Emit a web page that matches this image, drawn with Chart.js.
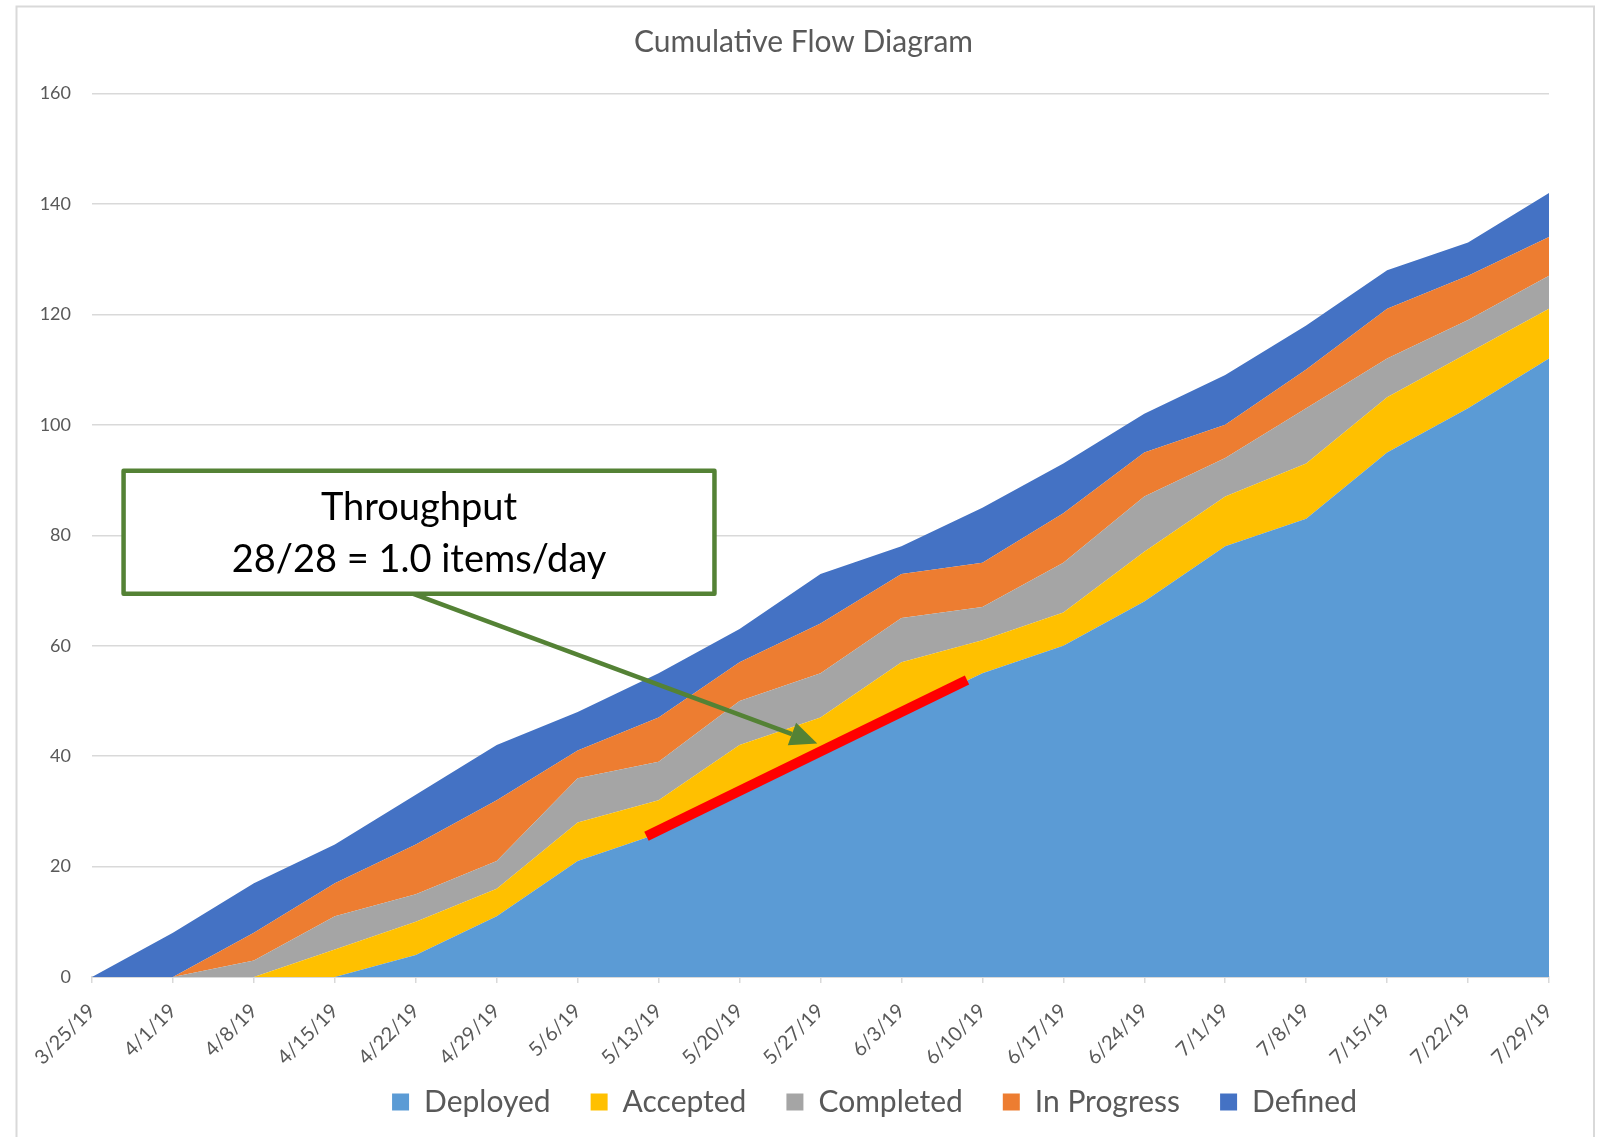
<!DOCTYPE html>
<html>
<head>
<meta charset="utf-8">
<title>Cumulative Flow Diagram</title>
<script src="https://cdn.jsdelivr.net/npm/chart.js@4.4.1/dist/chart.umd.min.js"></script>
<style>
  html, body { margin: 0; padding: 0; background: #ffffff; }
  #cfdChart { display: block; }
</style>
</head>
<body>
<canvas id="cfdChart" width="1601" height="1137"></canvas>
<script>
// Week labels (x axis)
const weeks = ['3/25/19', '4/1/19', '4/8/19', '4/15/19', '4/22/19', '4/29/19', '5/6/19',
  '5/13/19', '5/20/19', '5/27/19', '6/3/19', '6/10/19', '6/17/19', '6/24/19', '7/1/19',
  '7/8/19', '7/15/19', '7/22/19', '7/29/19'];

// Cumulative item counts, top edge of each band
const deployed   = [0, 0, 0, 0, 4, 11, 21, 26, 33, 40, 48, 55, 60, 68, 78, 83, 95, 103, 112];
const accepted   = [0, 0, 0, 5, 10, 16, 28, 32, 42, 47, 57, 61, 66, 77, 87, 93, 105, 113, 121];
const completed  = [0, 0, 3, 11, 15, 21, 36, 39, 50, 55, 65, 67, 75, 87, 94, 103, 112, 119, 127];
const inProgress = [0, 0, 8, 17, 24, 32, 41, 47, 57, 64, 73, 75, 84, 95, 100, 110, 121, 127, 134];
const defined    = [0, 8, 17, 24, 33, 42, 48, 55, 63, 73, 78, 85, 93, 102, 109, 118, 128, 133, 142];

const yTicks = [0, 20, 40, 60, 80, 100, 120, 140, 160];

const FONT = 'Lato, "Open Sans", sans-serif';
const TEXT_GREY = '#595959';
const LINE_GREY = '#d9d9d9';

/**
 * White background + thin grey frame round the chart (Excel chart border)
 */
const framePlugin = {
  id: 'frame',
  beforeDraw: (chart) => {
    const { ctx, width, height } = chart;
    ctx.save();
    ctx.fillStyle = '#ffffff';
    ctx.fillRect(0, 0, width, height);
    ctx.strokeStyle = LINE_GREY;
    ctx.lineWidth = 2;
    ctx.beginPath();
    ctx.moveTo(16.5, height + 5);
    ctx.lineTo(16.5, 6.5);
    ctx.lineTo(1594, 6.5);
    ctx.lineTo(1594, height + 5);
    ctx.stroke();
    ctx.restore();
  }
};

/**
 * Excel centres title and legend on its own frame, not on the plot;
 * nudge the two boxes after layout.
 */
const nudgePlugin = {
  id: 'nudge',
  afterLayout: (chart, args, opts) => {
    const move = (box, dx, dy) => {
      if (!box) return;
      box.left += dx; box.right += dx;
      box.top += dy; box.bottom += dy;
    };
    move(chart.titleBlock, opts.title[0], opts.title[1]);
    move(chart.legend, opts.legend[0], opts.legend[1]);
  }
};

/**
 * Throughput call-out: red trend segment, green arrow and text box,
 * placed in data space (x = week index, y = items)
 */
const throughputPlugin = {
  id: 'throughput',
  afterDatasetsDraw: (chart, args, opts) => {
    const { ctx, scales: { x, y } } = chart;
    const px = (p) => [x.getPixelForValue(p[0]), y.getPixelForValue(p[1])];
    ctx.save();

    // red trend line along the Deployed edge
    const [r1x, r1y] = px(opts.trend[0]);
    const [r2x, r2y] = px(opts.trend[1]);
    ctx.strokeStyle = '#ff0000';
    ctx.lineWidth = 10;
    ctx.lineCap = 'butt';
    ctx.beginPath();
    ctx.moveTo(r1x, r1y);
    ctx.lineTo(r2x, r2y);
    ctx.stroke();

    // green arrow
    const [a1x, a1y] = px(opts.arrow[0]);
    const [a2x, a2y] = px(opts.arrow[1]);
    const ang = Math.atan2(a2y - a1y, a2x - a1x);
    const headLen = 27, headW = 12;
    const bx = a2x - headLen * Math.cos(ang);
    const by = a2y - headLen * Math.sin(ang);
    ctx.strokeStyle = '#548235';
    ctx.fillStyle = '#548235';
    ctx.lineWidth = 4.5;
    ctx.beginPath();
    ctx.moveTo(a1x, a1y);
    ctx.lineTo(bx, by);
    ctx.stroke();
    ctx.beginPath();
    ctx.moveTo(a2x, a2y);
    ctx.lineTo(bx + headW * Math.sin(ang), by - headW * Math.cos(ang));
    ctx.lineTo(bx - headW * Math.sin(ang), by + headW * Math.cos(ang));
    ctx.closePath();
    ctx.fill();

    // text box
    const [lx, ty] = px(opts.box[0]);
    const [rx, byy] = px(opts.box[1]);
    ctx.fillStyle = '#ffffff';
    ctx.fillRect(lx, ty, rx - lx, byy - ty);
    ctx.lineWidth = 4.5;
    ctx.lineJoin = 'round';
    ctx.strokeRect(lx, ty, rx - lx, byy - ty);

    ctx.fillStyle = '#000000';
    ctx.font = `38px ${FONT}`;
    ctx.textAlign = 'center';
    ctx.textBaseline = 'middle';
    const cx = (lx + rx) / 2;
    const h = byy - ty;
    ctx.fillText(opts.lines[0], cx, ty + h * 0.3);
    ctx.fillText(opts.lines[1], cx, ty + h * 0.72);

    ctx.restore();
  }
};

const makeSeries = (label, data, color, fill) => ({
  label,
  data,
  backgroundColor: color,
  borderColor: color,
  borderWidth: 0,
  pointRadius: 0,
  pointHoverRadius: 0,
  tension: 0,
  fill
});

new Chart(document.getElementById('cfdChart'), {
  type: 'line',
  data: {
    labels: weeks,
    datasets: [
      makeSeries('Deployed', deployed, '#5b9bd5', 'origin'),
      makeSeries('Accepted', accepted, '#ffc000', '-1'),
      makeSeries('Completed', completed, '#a5a5a5', '-1'),
      makeSeries('In Progress', inProgress, '#ed7d31', '-1'),
      makeSeries('Defined', defined, '#4472c4', '-1')
    ]
  },
  options: {
    responsive: false,
    animation: false,
    // negative bottom: legend is pulled back up by the nudge plugin
    layout: { padding: { left: 0, right: 52, top: 0, bottom: -30 } },
    scales: {
      x: {
        offset: false,
        afterFit: (scale) => { scale.height = 110; },
        grid: {
          drawOnChartArea: false,
          drawTicks: true,
          tickLength: 6,
          color: LINE_GREY,
          lineWidth: 1.5
        },
        border: { color: LINE_GREY, width: 2 },
        ticks: {
          color: TEXT_GREY,
          font: { family: FONT, size: 20 },
          minRotation: 45,
          maxRotation: 45,
          autoSkip: false,
          padding: 16
        }
      },
      y: {
        min: 0,
        max: 160,
        afterBuildTicks: (scale) => { scale.ticks = yTicks.map(v => ({ value: v })); },
        afterFit: (scale) => { scale.width = 92; },
        grid: { color: LINE_GREY, lineWidth: 1.5, drawTicks: false },
        border: { display: false },
        ticks: {
          color: TEXT_GREY,
          font: { family: FONT, size: 18 },
          padding: 21
        }
      }
    },
    plugins: {
      title: {
        display: true,
        text: 'Cumulative Flow Diagram',
        color: TEXT_GREY,
        font: { family: FONT, size: 30, weight: 'normal' },
        padding: { top: 24, bottom: 33.5 }
      },
      legend: {
        position: 'bottom',
        labels: {
          color: TEXT_GREY,
          font: { family: FONT, size: 30 },
          boxWidth: 17,
          boxHeight: 17,
          padding: 40
        }
      },
      tooltip: { enabled: false },
      nudge: {
        title: [29, 0],
        legend: [100, -40]
      },
      throughput: {
        trend: [[6.85, 25.5], [10.81, 53.8]],
        arrow: [[3.97, 69.4], [8.96, 42.3]],
        box: [[0.39, 91.7], [7.69, 69.4]],
        lines: ['Throughput', '28/28 = 1.0 items/day']
      }
    }
  },
  plugins: [framePlugin, nudgePlugin, throughputPlugin]
});
</script>
</body>
</html>
